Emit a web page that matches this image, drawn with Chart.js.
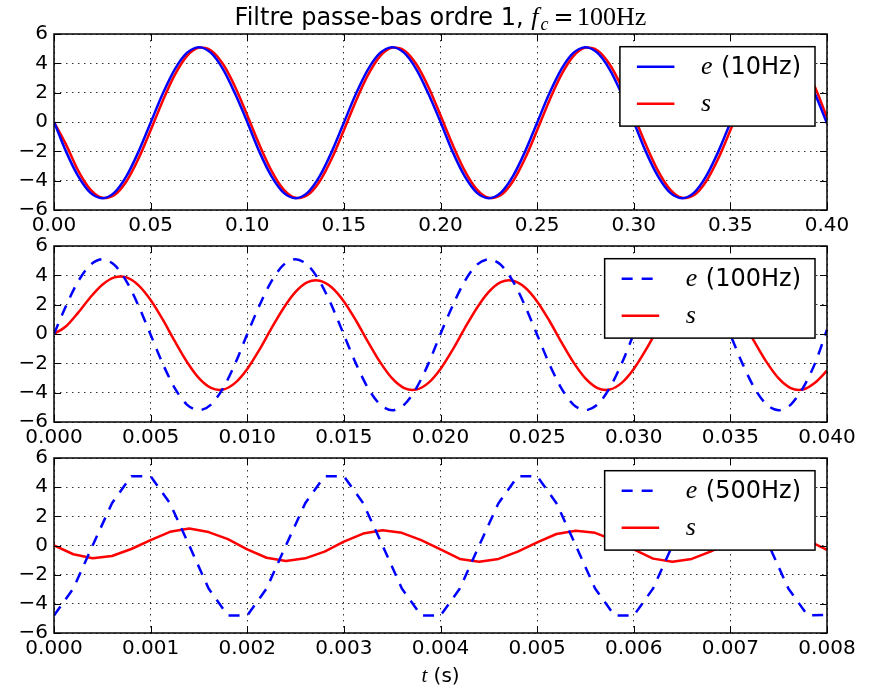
<!DOCTYPE html>
<html>
<head>
<meta charset="utf-8">
<script src="https://cdn.jsdelivr.net/npm/chart.js@4.4.1/dist/chart.umd.min.js"></script>
<style>
  body { margin: 0; background: #fff; }
  #wrap { position: relative; width: 875px; height: 688px; overflow: hidden; }
  canvas { position: absolute; left: 0; }
</style>
</head>
<body>
<div id="wrap">
  <canvas id="c1" width="875" height="240" style="top:0px"></canvas>
  <canvas id="c2" width="875" height="228" style="top:226px"></canvas>
  <canvas id="c3" width="875" height="250" style="top:438px"></canvas>
</div>
<script>
// --- data ---
// top panel: 10 Hz input
const tTop = [0, 0.00625, 0.0125, 0.01875, 0.025, 0.03125, 0.0375, 0.04375, 0.05, 0.05625, 0.0625, 0.06875, 0.075, 0.08125, 0.0875, 0.09375,
  0.1, 0.10625, 0.1125, 0.11875, 0.125, 0.13125, 0.1375, 0.14375, 0.15, 0.15625, 0.1625, 0.16875, 0.175, 0.18125, 0.1875, 0.19375,
  0.2, 0.20625, 0.2125, 0.21875, 0.225, 0.23125, 0.2375, 0.24375, 0.25, 0.25625, 0.2625, 0.26875, 0.275, 0.28125, 0.2875, 0.29375,
  0.3, 0.30625, 0.3125, 0.31875, 0.325, 0.33125, 0.3375, 0.34375, 0.35, 0.35625, 0.3625, 0.36875, 0.375, 0.38125, 0.3875, 0.39375, 0.4];
const eTop = [0, -2.02, -3.69, -4.81, -5.2, -4.81, -3.69, -2.02, -0.05, 1.92, 3.59, 4.71, 5.1, 4.71, 3.59, 1.92,
  0, -2.02, -3.69, -4.81, -5.2, -4.81, -3.69, -2.02, -0.05, 1.92, 3.59, 4.71, 5.1, 4.71, 3.59, 1.92,
  0, -2.02, -3.69, -4.81, -5.2, -4.81, -3.69, -2.02, -0.05, 1.92, 3.59, 4.71, 5.1, 4.71, 3.59, 1.92,
  0, -2.02, -3.69, -4.81, -5.2, -4.81, -3.69, -2.02, -0.05, 1.92, 3.59, 4.71, 5.1, 4.71, 3.59, 1.92, -0.1];
const sTop = [0, -1.54, -3.31, -4.59, -5.17, -4.98, -4.04, -2.49, -0.56, 1.44, 3.21, 4.49, 5.07, 4.88, 3.94, 2.39,
  0.46, -1.54, -3.31, -4.59, -5.17, -4.98, -4.04, -2.49, -0.56, 1.44, 3.21, 4.49, 5.07, 4.88, 3.94, 2.39,
  0.46, -1.54, -3.31, -4.59, -5.17, -4.98, -4.04, -2.49, -0.56, 1.44, 3.21, 4.49, 5.07, 4.88, 3.94, 2.39,
  0.46, -1.54, -3.31, -4.59, -5.17, -4.98, -4.04, -2.49, -0.56, 1.44, 3.21, 4.49, 5.07, 4.88, 3.94, 2.39, 0.3];

// middle panel: 100 Hz input
const tMid = [0, 0.000625, 0.00125, 0.001875, 0.0025, 0.003125, 0.00375, 0.004375, 0.005, 0.005625, 0.00625, 0.006875, 0.0075, 0.008125, 0.00875, 0.009375,
  0.01, 0.010625, 0.01125, 0.011875, 0.0125, 0.013125, 0.01375, 0.014375, 0.015, 0.015625, 0.01625, 0.016875, 0.0175, 0.018125, 0.01875, 0.019375,
  0.02, 0.020625, 0.02125, 0.021875, 0.0225, 0.023125, 0.02375, 0.024375, 0.025, 0.025625, 0.02625, 0.026875, 0.0275, 0.028125, 0.02875, 0.029375,
  0.03, 0.030625, 0.03125, 0.031875, 0.0325, 0.033125, 0.03375, 0.034375, 0.035, 0.035625, 0.03625, 0.036875, 0.0375, 0.038125, 0.03875, 0.039375, 0.04];
const eMid = [0, 1.92, 3.59, 4.71, 5.1, 4.71, 3.59, 1.92, -0.05, -2.02, -3.69, -4.81, -5.2, -4.81, -3.69, -2.02,
  0, 1.92, 3.59, 4.71, 5.1, 4.71, 3.59, 1.92, -0.05, -2.02, -3.69, -4.81, -5.2, -4.81, -3.69, -2.02,
  0, 1.92, 3.59, 4.71, 5.1, 4.71, 3.59, 1.92, -0.05, -2.02, -3.69, -4.81, -5.2, -4.81, -3.69, -2.02,
  0, 1.92, 3.59, 4.71, 5.1, 4.71, 3.59, 1.92, -0.05, -2.02, -3.69, -4.81, -5.2, -4.81, -3.69, -2.02, 0.3];
const sMid = [0, 0.53, 1.46, 2.49, 3.36, 3.86, 3.86, 3.32, 2.32, 0.99, -0.49, -1.89, -3.01, -3.68, -3.79, -3.33,
  -2.38, -1.08, 0.38, 1.76, 2.87, 3.53, 3.63, 3.17, 2.22, 0.92, -0.54, -1.92, -3.03, -3.69, -3.79, -3.33,
  -2.38, -1.08, 0.38, 1.76, 2.87, 3.53, 3.63, 3.17, 2.22, 0.92, -0.54, -1.92, -3.03, -3.69, -3.79, -3.33,
  -2.38, -1.08, 0.38, 1.76, 2.87, 3.53, 3.63, 3.17, 2.22, 0.92, -0.54, -1.92, -3.03, -3.69, -3.79, -3.33, -2.5];

// bottom panel: 500 Hz input (coarse sampling, straight segments)
const tBot = [0, 0.0002, 0.0004, 0.0006, 0.0008, 0.001, 0.0012, 0.0014, 0.0016, 0.0018, 0.002, 0.0022, 0.0024, 0.0026,
  0.0028, 0.003, 0.0032, 0.0034, 0.0036, 0.0038, 0.004, 0.0042, 0.0044, 0.0046, 0.0048, 0.005, 0.0052, 0.0054,
  0.0056, 0.0058, 0.006, 0.0062, 0.0064, 0.0066, 0.0068, 0.007, 0.0072, 0.0074, 0.0076, 0.0078, 0.008];
const eBot = [-4.8, -2.95, 0, 2.9, 4.75, 4.75, 2.9, 0, -2.95, -4.8, -4.8, -2.95, 0, 2.9, 4.75, 4.75, 2.9, 0, -2.95, -4.8,
  -4.8, -2.95, 0, 2.9, 4.75, 4.75, 2.9, 0, -2.95, -4.8, -4.8, -2.95, 0, 2.9, 4.75, 4.75, 2.9, 0, -2.95, -4.8, -4.75];
const sBot = [0, -0.6, -0.88, -0.72, -0.24, 0.37, 0.94, 1.17, 0.92, 0.44, -0.26, -0.84, -1.06, -0.88, -0.42, 0.26,
  0.82, 1.04, 0.87, 0.37, -0.26, -0.92, -1.11, -0.92, -0.42, 0.22, 0.79, 1.01, 0.87, 0.35, -0.26, -0.9,
  -1.12, -0.92, -0.4, 0.25, 0.8, 1.03, 0.87, 0.35, -0.3];

const yTicks = [-6, -4, -2, 0, 2, 4, 6];

const SANS = '"DejaVu Sans"';
const SERIF = '"Liberation Serif"';
Chart.defaults.font.family = SANS;
Chart.defaults.font.size = 20;
Chart.defaults.color = '#000';

// draw a run of text pieces with different fonts, return end x
function drawRich(ctx, parts, x, y) {
  parts.forEach(p => {
    ctx.font = p.font;
    ctx.fillText(p.text, x, y + (p.dy || 0));
    x += ctx.measureText(p.text).width + (p.gap || 0);
  });
  return x;
}
function richWidth(ctx, parts) {
  let w = 0;
  parts.forEach(p => { ctx.font = p.font; w += ctx.measureText(p.text).width + (p.gap || 0); });
  return w;
}

// black frame + inward ticks on the four sides
const framePlugin = {
  id: 'frame',
  afterDatasetsDraw(chart) {
    const { ctx, chartArea: a, scales: { x, y } } = chart;
    ctx.save();
    ctx.strokeStyle = '#000';
    ctx.lineWidth = 1;
    ctx.beginPath();
    x.ticks.forEach(t => {
      const px = Math.round(x.getPixelForValue(t.value)) + 0.5;
      ctx.moveTo(px, a.top); ctx.lineTo(px, a.top + 7);
      ctx.moveTo(px, a.bottom); ctx.lineTo(px, a.bottom - 7);
    });
    y.ticks.forEach(t => {
      const py = Math.round(y.getPixelForValue(t.value)) + 0.5;
      ctx.moveTo(a.left, py); ctx.lineTo(a.left + 7, py);
      ctx.moveTo(a.right, py); ctx.lineTo(a.right - 7, py);
    });
    ctx.stroke();
    ctx.lineWidth = 1.5;
    ctx.strokeRect(a.left, a.top, a.right - a.left, a.bottom - a.top);
    ctx.restore();
  }
};

// boxed legend in the upper right corner
const boxLegend = {
  id: 'boxLegend',
  afterDraw(chart, args, opts) {
    const { ctx, chartArea: a } = chart;
    const ds = chart.data.datasets;
    ctx.save();
    let tw = 0;
    opts.labels.forEach(l => { tw = Math.max(tw, richWidth(ctx, l)); });
    const w = 81 + tw + 14, h = 79.4;
    const bx = a.right - 12 - w, by = a.top + 12.7;
    ctx.fillStyle = '#fff';
    ctx.fillRect(bx, by, w, h);
    ctx.strokeStyle = '#000';
    ctx.lineWidth = 1.5;
    ctx.strokeRect(bx, by, w, h);
    opts.labels.forEach((l, i) => {
      const ly = by + 20 + i * 37;
      ctx.save();
      ctx.strokeStyle = ds[i].borderColor;
      ctx.lineWidth = ds[i].borderWidth;
      ctx.setLineDash(ds[i].borderDash || []);
      ctx.beginPath();
      ctx.moveTo(bx + 17, ly);
      ctx.lineTo(bx + 54.5, ly);
      ctx.stroke();
      ctx.restore();
      ctx.fillStyle = '#000';
      ctx.textBaseline = 'alphabetic';
      drawRich(ctx, l, bx + 81, ly + 7.5);
    });
    ctx.restore();
  }
};

// free text (title, axis label)
const textPlugin = {
  id: 'freeText',
  afterDraw(chart, args, opts) {
    if (!opts.parts) return;
    const { ctx, chartArea: a } = chart;
    ctx.save();
    ctx.fillStyle = '#000';
    ctx.textBaseline = 'alphabetic';
    const w = richWidth(ctx, opts.parts);
    drawRich(ctx, opts.parts, (a.left + a.right) / 2 - w / 2 + (opts.dx || 0), opts.y);
    ctx.restore();
  }
};

function makePanel(id, t, e, s, cfg) {
  const toPts = (vals) => t.map((v, i) => ({ x: v, y: vals[i] }));
  const curve = cfg.smooth ? 0.3 : 0;
  return new Chart(document.getElementById(id), {
    type: 'line',
    data: {
      datasets: [
        {
          data: toPts(e),
          borderColor: '#0000ff',
          borderWidth: 2.5,
          borderDash: cfg.dashed ? [11, 9] : [],
          borderJoinStyle: 'round',
          pointRadius: 0,
          fill: false,
          tension: curve
        },
        {
          data: toPts(s),
          borderColor: '#ff0000',
          borderWidth: 2.5,
          borderJoinStyle: 'round',
          pointRadius: 0,
          fill: false,
          tension: curve
        }
      ]
    },
    options: {
      responsive: false,
      animation: false,
      devicePixelRatio: 1,
      layout: { padding: { top: cfg.padTop, right: 48, left: 0, bottom: 0 } },
      plugins: {
        legend: { display: false },
        tooltip: { enabled: false },
        boxLegend: { labels: cfg.legend },
        freeText: cfg.text || {}
      },
      scales: {
        x: {
          type: 'linear',
          min: 0,
          max: cfg.xMax,
          afterFit: (sc) => { sc.height = cfg.xAxisH; },
          ticks: {
            stepSize: cfg.xStep,
            autoSkip: false,
            maxRotation: 0,
            minRotation: 0,
            padding: 4,
            callback: (v) => v.toFixed(cfg.dec)
          },
          grid: { color: '#000', lineWidth: 0.8, drawTicks: false },
          border: { display: false, dash: [1.5, 4.5] }
        },
        y: {
          min: -6,
          max: 6,
          afterFit: (sc) => { sc.width = 54; },
          afterBuildTicks: (sc) => { sc.ticks = yTicks.map(v => ({ value: v })); },
          ticks: {
            padding: 6,
            callback: (v) => v < 0 ? '\u2212' + (-v) : String(v)
          },
          grid: { color: '#000', lineWidth: 0.8, drawTicks: false },
          border: { display: false, dash: [1.5, 4.5] }
        }
      }
    },
    plugins: [framePlugin, boxLegend, textPlugin]
  });
}

const eFont = 'italic 26px ' + SERIF;
const txtFont = '24px ' + SANS;

makePanel('c1', tTop, eTop, sTop, {
  xMax: 0.4, xStep: 0.05, dec: 2, padTop: 34, xAxisH: 30, smooth: true, dashed: false,
  legend: [
    [{ text: 'e', font: eFont, gap: 1 }, { text: ' (10Hz)', font: txtFont }],
    [{ text: 's', font: eFont }]
  ],
  text: {
    y: 25,
    parts: [
      { text: 'Filtre passe-bas ordre 1, ', font: '24px ' + SANS },
      { text: 'f', font: 'italic 26px ' + SERIF, gap: 2 },
      { text: 'c', font: 'italic 18px ' + SERIF, dy: 5, gap: 5 },
      { text: '=', font: '24px "DejaVu Serif"', gap: 3.5 },
      { text: '100Hz', font: '26px ' + SERIF }
    ]
  }
});

makePanel('c2', tMid, eMid, sMid, {
  xMax: 0.04, xStep: 0.005, dec: 3, padTop: 20, xAxisH: 32, smooth: true, dashed: true,
  legend: [
    [{ text: 'e', font: eFont, gap: 1 }, { text: ' (100Hz)', font: txtFont }],
    [{ text: 's', font: eFont }]
  ]
});

makePanel('c3', tBot, eBot, sBot, {
  xMax: 0.008, xStep: 0.001, dec: 3, padTop: 20, xAxisH: 55, smooth: false, dashed: true,
  legend: [
    [{ text: 'e', font: eFont, gap: 1 }, { text: ' (500Hz)', font: txtFont }],
    [{ text: 's', font: eFont }]
  ],
  text: {
    y: 244,
    parts: [
      { text: 't', font: 'italic 21px ' + SERIF },
      { text: ' (s)', font: '20px ' + SANS }
    ]
  }
});
</script>
</body>
</html>
